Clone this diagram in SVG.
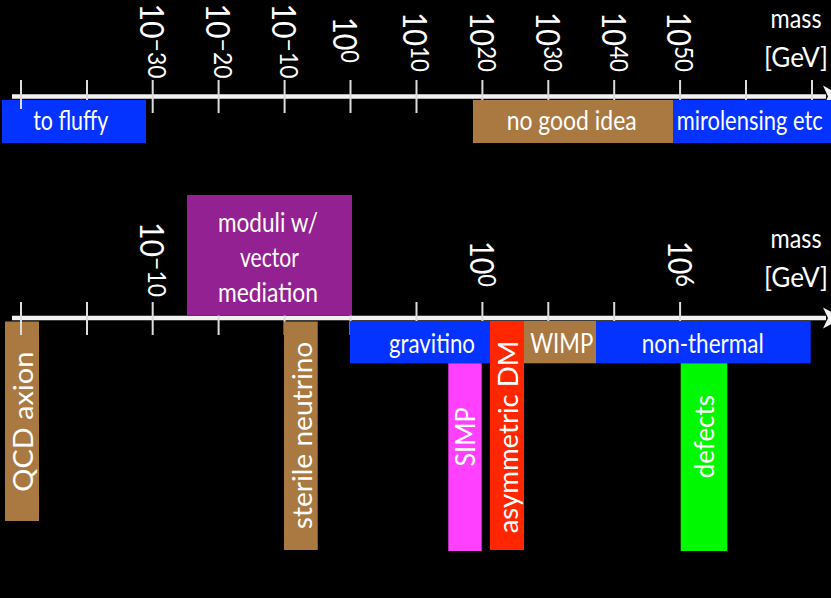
<svg xmlns="http://www.w3.org/2000/svg" width="831" height="598" viewBox="0 0 831 598">
  <style>
    .lbl { font-family: Lato, "Open Sans", "Liberation Sans", sans-serif; fill: #ffffff; font-size: 26px; }
    .num { font-family: Lato, "Open Sans", "Liberation Sans", sans-serif; fill: #ffffff; font-size: 33px; }
    .sup { font-size: 25px; }
    .axis { stroke: #f2f2f2; stroke-width: 4.5; fill: none; }
    .tick { stroke: #dcdcdc; stroke-width: 2; }
    .blue { fill: #0433ff; }
    .brown { fill: #aa7942; }
    .purple { fill: #942192; }
    .red { fill: #ff2600; }
    .magenta { fill: #ff40ff; }
    .green { fill: #00f900; }
  </style>

  <rect x="0" y="0" width="831" height="598" fill="#000000"/>

  <!-- axes: lines, arrowheads, ticks -->
  <g id="connectors">
    <g id="axis-top">
      <line class="axis" x1="12" y1="96.5" x2="826" y2="96.5"/>
      <polygon points="823,85.5 843,96.5 823,107.5 828,96.5" fill="#f2f2f2"/>
      <g class="tick">
        <line x1="87" y1="80" x2="87" y2="113"/>
        <line x1="152.7" y1="80" x2="152.7" y2="113"/>
        <line x1="218.6" y1="80" x2="218.6" y2="113"/>
        <line x1="284.6" y1="80" x2="284.6" y2="113"/>
        <line x1="350.5" y1="80" x2="350.5" y2="113"/>
        <line x1="416.5" y1="80" x2="416.5" y2="113"/>
        <line x1="482.4" y1="80" x2="482.4" y2="113"/>
        <line x1="548.3" y1="80" x2="548.3" y2="113"/>
        <line x1="614.2" y1="80" x2="614.2" y2="113"/>
        <line x1="680.1" y1="80" x2="680.1" y2="113"/>
        <line x1="746" y1="80" x2="746" y2="113"/>
        <line x1="812" y1="80" x2="812" y2="113"/>
      </g>
    </g>
    <g id="axis-bottom">
      <line class="axis" x1="12" y1="318" x2="826" y2="318"/>
      <polygon points="823,307.5 843,318 823,328.5 828,318" fill="#f2f2f2"/>
      <g class="tick">
        <line x1="87" y1="302" x2="87" y2="335"/>
        <line x1="152.7" y1="302" x2="152.7" y2="335"/>
        <line x1="218.6" y1="302" x2="218.6" y2="335"/>
        <line x1="284.6" y1="302" x2="284.6" y2="335"/>
        <line x1="350.5" y1="302" x2="350.5" y2="335"/>
        <line x1="416.5" y1="302" x2="416.5" y2="335"/>
        <line x1="482.4" y1="302" x2="482.4" y2="335"/>
        <line x1="548.3" y1="302" x2="548.3" y2="335"/>
        <line x1="614.2" y1="302" x2="614.2" y2="335"/>
        <line x1="680.1" y1="302" x2="680.1" y2="335"/>
      </g>
    </g>
  </g>

  <!-- top scale: ranges -->
  <g id="to-fluffy">
    <rect class="blue" x="2" y="100" width="144" height="43"/>
    <text class="lbl" x="70.7" y="130" text-anchor="middle" textLength="75" lengthAdjust="spacingAndGlyphs">to fluffy</text>
  </g>
  <g id="no-good-idea">
    <rect class="brown" x="473" y="100" width="200.5" height="43"/>
    <text class="lbl" x="571.7" y="130" text-anchor="middle" textLength="130" lengthAdjust="spacingAndGlyphs">no good idea</text>
  </g>
  <g id="mirolensing">
    <rect class="blue" x="673.3" y="100" width="157.7" height="43"/>
    <text class="lbl" x="676.7" y="130" textLength="146" lengthAdjust="spacingAndGlyphs">mirolensing etc</text>
  </g>

  <!-- bottom scale: candidates -->
  <g id="moduli">
    <rect class="purple" x="187" y="195" width="165" height="120.5"/>
    <text class="lbl" x="268" y="231.7" text-anchor="middle" textLength="100" lengthAdjust="spacingAndGlyphs">moduli w/</text>
    <text class="lbl" x="269.5" y="266.7" text-anchor="middle" textLength="59" lengthAdjust="spacingAndGlyphs">vector</text>
    <text class="lbl" x="268" y="301.7" text-anchor="middle" textLength="100" lengthAdjust="spacingAndGlyphs">mediation</text>
  </g>
  <g id="qcd-axion">
    <rect class="brown" x="5" y="321.5" width="34" height="199.5"/>
    <text class="lbl" transform="translate(33.3,421.7) rotate(-90)" text-anchor="middle" textLength="140" lengthAdjust="spacingAndGlyphs">QCD axion</text>
  </g>
  <g id="sterile-neutrino">
    <rect class="brown" x="284" y="321.5" width="33.7" height="228.5"/>
    <text class="lbl" transform="translate(311.7,435.5) rotate(-90)" text-anchor="middle" textLength="187.6" lengthAdjust="spacingAndGlyphs">sterile neutrino</text>
  </g>
  <g id="gravitino">
    <rect class="blue" x="350" y="321" width="140" height="42.3"/>
    <text class="lbl" x="432" y="353.3" text-anchor="middle" textLength="86" lengthAdjust="spacingAndGlyphs">gravitino</text>
  </g>
  <g id="simp">
    <rect class="magenta" x="448.3" y="363.3" width="33.4" height="187.7"/>
    <text class="lbl" transform="translate(475,437) rotate(-90)" text-anchor="middle" textLength="59" lengthAdjust="spacingAndGlyphs">SIMP</text>
  </g>
  <g id="asymmetric-dm">
    <rect class="red" x="490" y="321" width="34" height="229"/>
    <text class="lbl" transform="translate(517.5,437) rotate(-90)" text-anchor="middle" textLength="192.7" lengthAdjust="spacingAndGlyphs">asymmetric DM</text>
  </g>
  <g id="wimp">
    <rect class="brown" x="524" y="321" width="72" height="42.3"/>
    <text class="lbl" x="561.7" y="353.3" text-anchor="middle" textLength="63" lengthAdjust="spacingAndGlyphs">WIMP</text>
  </g>
  <g id="non-thermal">
    <rect class="blue" x="596" y="321" width="214.7" height="42.3"/>
    <text class="lbl" x="702.8" y="353.3" text-anchor="middle" textLength="122" lengthAdjust="spacingAndGlyphs">non-thermal</text>
  </g>
  <g id="defects">
    <rect class="green" x="680.7" y="363.3" width="46.6" height="187.7"/>
    <text class="lbl" transform="translate(714,436.7) rotate(-90)" text-anchor="middle" textLength="83.3" lengthAdjust="spacingAndGlyphs">defects</text>
  </g>

  <!-- first ticks sit above the boxes -->
  <g id="front-ticks" class="tick">
    <line x1="21" y1="80" x2="21" y2="109"/>
    <line x1="21" y1="302" x2="21" y2="335"/>
  </g>

  <!-- scale labels, top -->
  <g id="scale-top">
    <text class="num" transform="translate(140,41) rotate(90)" text-anchor="middle" textLength="75" lengthAdjust="spacingAndGlyphs">10<tspan class="sup" dy="-8">−30</tspan></text>
    <text class="num" transform="translate(206,41) rotate(90)" text-anchor="middle" textLength="75" lengthAdjust="spacingAndGlyphs">10<tspan class="sup" dy="-8">−20</tspan></text>
    <text class="num" transform="translate(271.7,41) rotate(90)" text-anchor="middle" textLength="75" lengthAdjust="spacingAndGlyphs">10<tspan class="sup" dy="-8">−10</tspan></text>
    <text class="num" transform="translate(333.3,40) rotate(90)" text-anchor="middle" textLength="46" lengthAdjust="spacingAndGlyphs">10<tspan class="sup" dy="-8">0</tspan></text>
    <text class="num" transform="translate(403.3,42) rotate(90)" text-anchor="middle" textLength="60" lengthAdjust="spacingAndGlyphs">10<tspan class="sup" dy="-8">10</tspan></text>
    <text class="num" transform="translate(470,42) rotate(90)" text-anchor="middle" textLength="60" lengthAdjust="spacingAndGlyphs">10<tspan class="sup" dy="-8">20</tspan></text>
    <text class="num" transform="translate(536,42) rotate(90)" text-anchor="middle" textLength="60" lengthAdjust="spacingAndGlyphs">10<tspan class="sup" dy="-8">30</tspan></text>
    <text class="num" transform="translate(601.7,42) rotate(90)" text-anchor="middle" textLength="60" lengthAdjust="spacingAndGlyphs">10<tspan class="sup" dy="-8">40</tspan></text>
    <text class="num" transform="translate(666.7,42) rotate(90)" text-anchor="middle" textLength="60" lengthAdjust="spacingAndGlyphs">10<tspan class="sup" dy="-8">50</tspan></text>
    <text class="lbl" x="796" y="28" text-anchor="middle" textLength="51" lengthAdjust="spacingAndGlyphs">mass</text>
    <text class="lbl" x="796" y="67" text-anchor="middle" textLength="64" lengthAdjust="spacingAndGlyphs">[GeV]</text>
  </g>

  <!-- scale labels, bottom -->
  <g id="scale-bottom">
    <text class="num" transform="translate(140,259.5) rotate(90)" text-anchor="middle" textLength="75" lengthAdjust="spacingAndGlyphs">10<tspan class="sup" dy="-8">−10</tspan></text>
    <text class="num" transform="translate(470,264) rotate(90)" text-anchor="middle" textLength="46" lengthAdjust="spacingAndGlyphs">10<tspan class="sup" dy="-8">0</tspan></text>
    <text class="num" transform="translate(667.7,264) rotate(90)" text-anchor="middle" textLength="46" lengthAdjust="spacingAndGlyphs">10<tspan class="sup" dy="-8">6</tspan></text>
    <text class="lbl" x="796" y="248" text-anchor="middle" textLength="51" lengthAdjust="spacingAndGlyphs">mass</text>
    <text class="lbl" x="796" y="287" text-anchor="middle" textLength="64" lengthAdjust="spacingAndGlyphs">[GeV]</text>
  </g>
</svg>
